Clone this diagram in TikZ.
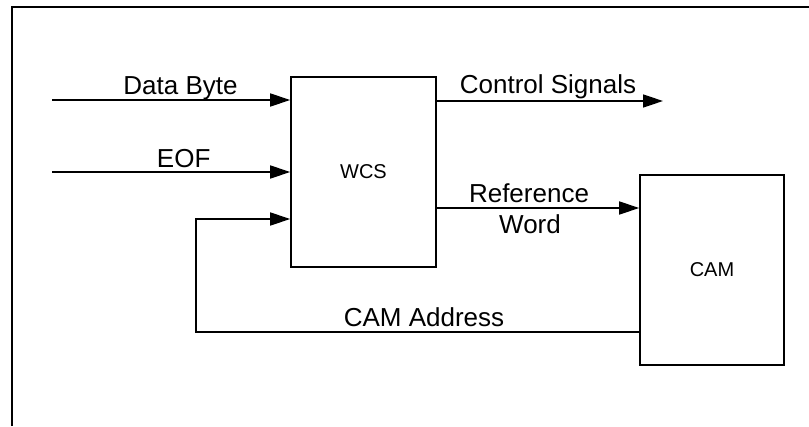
\documentclass[tikz,border=0pt]{standalone}
\usepackage{fontspec}
\setmainfont{Liberation Sans}
\usetikzlibrary{arrows.meta}
\begin{document}
\begin{tikzpicture}[x=1pt,y=-1pt,
  wire/.style={line width=1.6pt},
  arr/.style={wire,-{Triangle[length=20pt,width=13pt]}},
  blk/.style={draw,line width=1.6pt,rectangle,inner sep=0pt,font=\fontsize{20}{24}\selectfont},
  lbl/.style={anchor=base,inner sep=0pt,font=\fontsize{26}{30}\selectfont}]
\useasboundingbox (0,0) rectangle (809,426);
\draw[line width=1.6pt] (12,426) -- (12,7) -- (809,7);
\node[blk,minimum width=145pt,minimum height=190pt] (wcs) at (363.5,172) {WCS};
\node[blk,minimum width=144pt,minimum height=190pt] (cam) at (712,270) {CAM};
\coordinate (dbs) at (52,100);
\coordinate (eofs) at (52,172);
\coordinate (cse) at (663,101);
\coordinate (rw) at (436,208);
\coordinate (fbx) at (196,332);
\coordinate (fby) at (196,219);
\draw[arr] (dbs) -- (dbs -| wcs.west);
\draw[arr] (eofs) -- (eofs -| wcs.west);
\draw[arr] (cse -| wcs.east) -- (cse);
\draw[arr] (wcs.east |- rw) -- (rw -| cam.west);
\draw[arr] (cam.west |- fbx) -- (fbx) -- (fby) -- (fby -| wcs.west);
\node[lbl] (tdb) at (180.5,94) {Data Byte};
\node[lbl] (teof) at (183.7,167) {EOF};
\node[lbl] (tcs) at (548,93) {Control Signals};
\node[lbl] (tref) at (529,202) {Reference};
\node[lbl] (tword) at (530,233) {Word};
\node[lbl] (tcam) at (424,326) {CAM Address};
\end{tikzpicture}
\end{document}
